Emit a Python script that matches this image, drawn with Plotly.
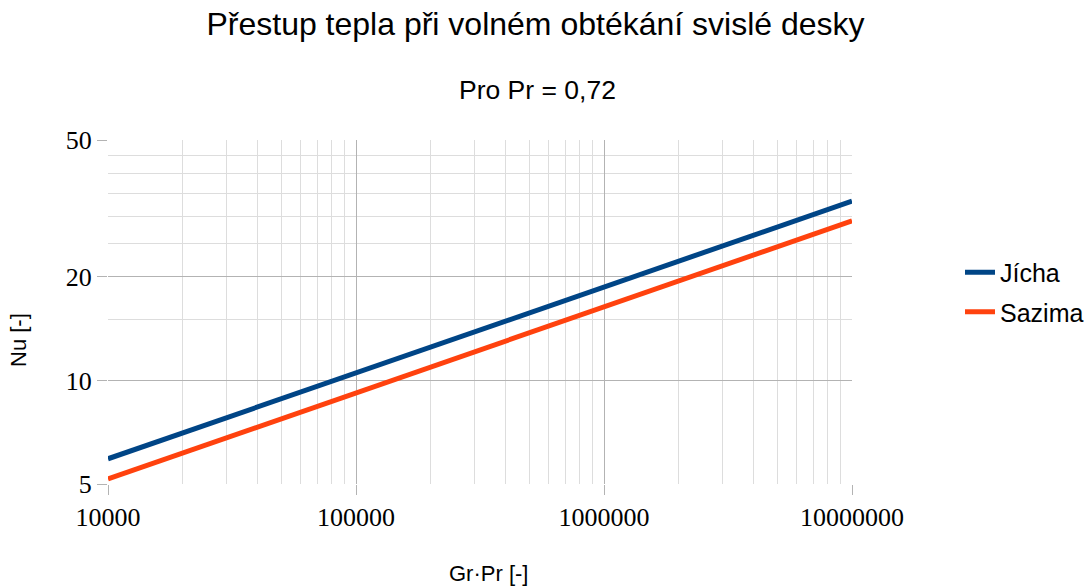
import plotly.graph_objects as go

# Gr·Pr values (log axis) and Nusselt numbers
gr_pr = [1e4, 1e5, 1e6, 1e7]
nu_jicha = [5.92, 10.5, 18.7, 33.2]
nu_sazima = [5.17, 9.2, 16.4, 29.1]

y_major = [5, 10, 20, 50]
y_minor = [15, 25, 30, 35, 40, 45]
x_major = [1e4, 1e5, 1e6, 1e7]
x_minor = [m * 10 ** e for e in range(4, 7) for m in range(2, 10)]

SANS = "Liberation Sans, Arial, sans-serif"
SERIF = "Liberation Serif, Times New Roman, serif"

# plot area in pixels: x 108..852, y 140..484
def px(x):
    return (x - 108) / 744

def py(y):
    return (484 - y) / 344

fig = go.Figure()
fig.add_trace(go.Scatter(x=gr_pr, y=nu_jicha, mode='lines', name='Jícha',
                         legendgroup='a', line=dict(color='#004586', width=5)))
fig.add_trace(go.Scatter(x=gr_pr, y=nu_sazima, mode='lines', name='Sazima',
                         legendgroup='b', line=dict(color='#ff420e', width=5)))

fig.update_layout(
    width=1090, height=588,
    margin=dict(l=108, r=238, t=140, b=104),
    paper_bgcolor='white', plot_bgcolor='white',
    font=dict(family=SANS, color='#000000'),
    title=dict(text='Přestup tepla při volném obtékání svislé desky',
               font=dict(size=32, family=SANS, color='#000000'),
               x=535.5 / 1090, xanchor='center', xref='container',
               y=1 - 24 / 588, yanchor='middle', yref='container'),
    legend=dict(x=960 / 1090, y=py(292), xref='container', yref='paper',
                xanchor='left', yanchor='middle',
                font=dict(size=25, family=SANS, color='#000000'),
                tracegroupgap=4, bgcolor='rgba(0,0,0,0)'),
    showlegend=True,
    annotations=[
        dict(text='Pro Pr = 0,72', x=px(537), y=py(90), xref='paper', yref='paper',
             showarrow=False, xanchor='center', yanchor='middle',
             font=dict(size=26.5, family=SANS, color='#000000')),
        dict(text='Gr·Pr [-]', x=px(488), y=py(573), xref='paper', yref='paper',
             showarrow=False, xanchor='center', yanchor='middle',
             font=dict(size=22, family=SANS, color='#000000')),
        dict(text='Nu [-]', x=px(18), y=py(340), xref='paper', yref='paper',
             showarrow=False, xanchor='center', yanchor='middle', textangle=-90,
             font=dict(size=22, family=SANS, color='#000000')),
    ],
)

fig.update_xaxes(
    type='log', range=[4, 7], tickvals=x_major, ticktext=[str(int(v)) for v in x_major],
    showgrid=True, gridcolor='#b3b3b3', gridwidth=1,
    showline=False, zeroline=False,
    ticks='outside', ticklen=10, tickcolor='#b3b3b3',
    tickfont=dict(size=26, family=SERIF, color='#000000'),
    minor=dict(tickvals=x_minor, showgrid=True, gridcolor='#dddddd', gridwidth=1, ticks=''),
)
fig.update_yaxes(
    type='log', range=[0.69897, 1.69897], tickvals=y_major, ticktext=[str(v) for v in y_major],
    showgrid=True, gridcolor='#b3b3b3', gridwidth=1,
    showline=False, zeroline=False,
    ticks='outside', ticklen=10, tickcolor='#b3b3b3',
    tickfont=dict(size=26, family=SERIF, color='#000000'),
    minor=dict(tickvals=y_minor, showgrid=True, gridcolor='#dddddd', gridwidth=1, ticks=''),
)

fig.write_html("out.html", config={'displayModeBar': False},
               post_script="document.body.style.margin='0';")
